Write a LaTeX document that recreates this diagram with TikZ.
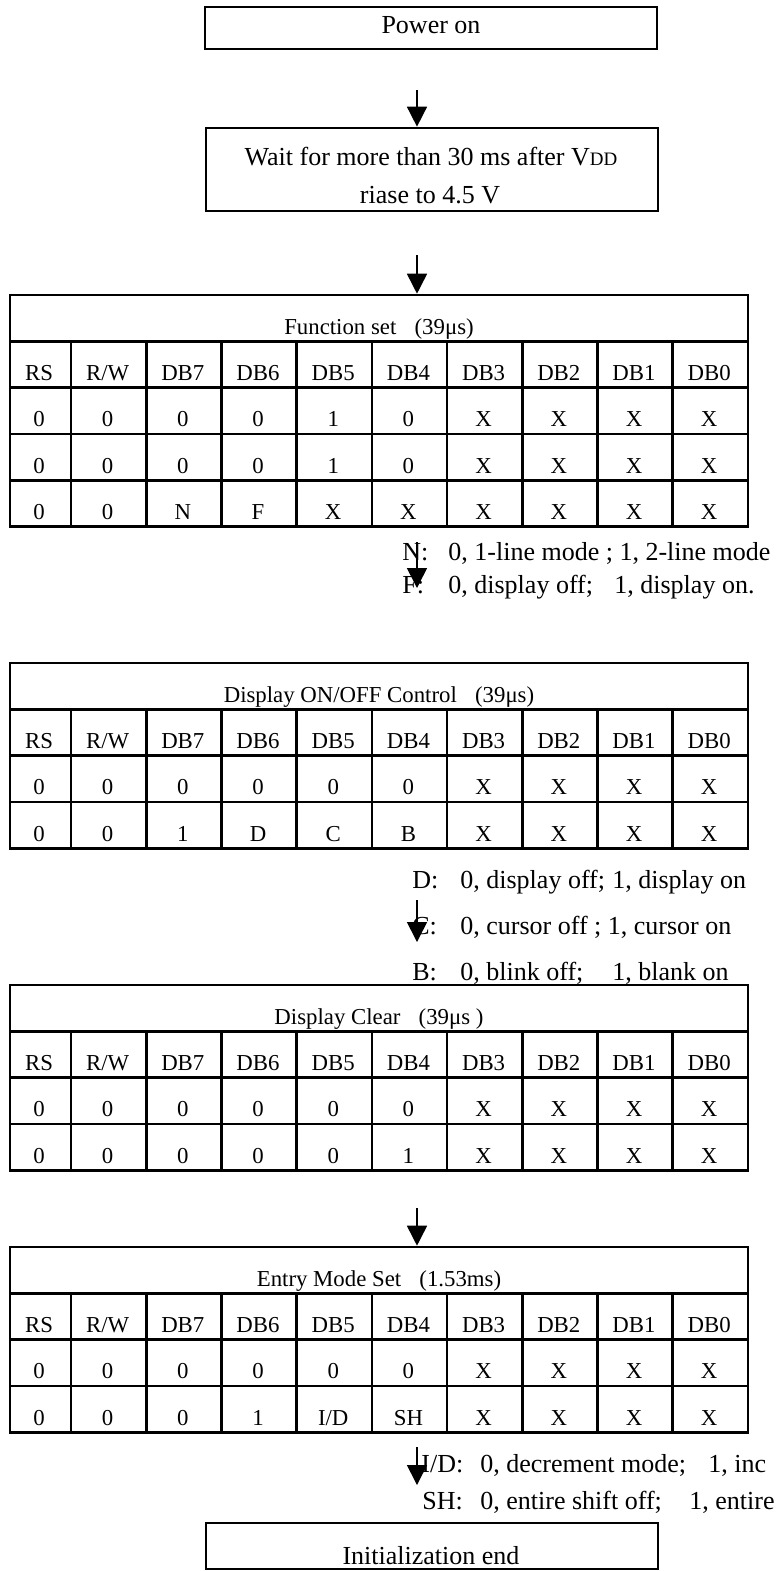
\documentclass[tikz,border=0pt]{standalone}
\usepackage{fontspec}
\setmainfont{Liberation Serif}
\usetikzlibrary{arrows.meta}
\newcommand\celltable[5]{% #1 name, #2 top, #3 rows incl. title, #4 title, #5 rows
  \pgfmathsetmacro\tb{#2+#3*46.3}
  \pgfmathsetmacro\tm{(#2+\tb)/2}
  \pgfmathtruncatemacro\nm{#3-1}
  \node[draw, tabline, minimum width=369pt, minimum height=#3*23.15pt, inner sep=0pt] (#1) at (379,\tm) {};
  \foreach \k in {1,...,\nm} {\draw[tabline] (10,#2+\k*46.3) -- (748,#2+\k*46.3);}
  \foreach \c in {1,...,9} {\draw[tabline] (71+75.2*\c-75.2,#2+46.3) -- (71+75.2*\c-75.2,\tb);}
  \node[small] (#1-title) at (379,#2+46.3-7) {#4};
  \foreach \row [count=\r] in {#5} {
    \foreach \val [count=\c] in \row {
      \pgfmathsetmacro\xc{\c==1 ? 39 : 71+75.2*(\c-1.5)-1}
      \node[small] (#1-\r-\c) at (\xc,#2+\r*46.3+46.3-7) {\val};
    }
  }
}
\begin{document}
\begin{tikzpicture}[x=0.5pt,y=-0.5pt,
  boxline/.style={line width=1.35pt},
  tabline/.style={line width=1.3pt},
  big/.style={font=\fontsize{13}{15}\selectfont, inner sep=0pt, anchor=base},
  small/.style={font=\fontsize{11.4}{13}\selectfont, inner sep=0pt, anchor=base},
  note/.style={font=\fontsize{13}{15}\selectfont, inner sep=0pt, anchor=base west},
  flow/.style={line width=0.8pt, -{Triangle[width=10pt,length=10pt]}}]
\useasboundingbox (0,0) rectangle (776,1571);
\clip (0,0) rectangle (776,1571);
\fill[white] (0,0) rectangle (776,1571);

% boxes
\node[draw, boxline, minimum width=226pt, minimum height=21pt, inner sep=0pt] (power) at (431,28) {};
\node[big] (powert) at (431,33) {Power on};
\node[draw, boxline, minimum width=226pt, minimum height=41.5pt, inner sep=0pt] (wait) at (432,169.5) {};
\node[big] (waitt1) at (431,165) {Wait for more than 30 ms after V{\fontsize{9.5}{10}\selectfont DD}};
\node[big] (waitt2) at (430,203) {riase to 4.5 V};
\node[draw, boxline, minimum width=226pt, minimum height=23pt, inner sep=0pt] (initend) at (432,1546) {};
\node[big] (initendt) at (431,1564) {Initialization end};

% tables
\celltable{fs}{295}{5}{Function set\hspace{0.8em}(39μs)}{{RS,R/W,DB7,DB6,DB5,DB4,DB3,DB2,DB1,DB0},{0,0,0,0,1,0,X,X,X,X},{0,0,0,0,1,0,X,X,X,X},{0,0,N,F,X,X,X,X,X,X}}
\celltable{dc}{663}{4}{Display ON/OFF Control\hspace{0.8em}(39μs)}{{RS,R/W,DB7,DB6,DB5,DB4,DB3,DB2,DB1,DB0},{0,0,0,0,0,0,X,X,X,X},{0,0,1,D,C,B,X,X,X,X}}
\celltable{cl}{985}{4}{Display Clear\hspace{0.8em}(39μs )}{{RS,R/W,DB7,DB6,DB5,DB4,DB3,DB2,DB1,DB0},{0,0,0,0,0,0,X,X,X,X},{0,0,0,0,0,1,X,X,X,X}}
\celltable{em}{1247}{4}{Entry Mode Set\hspace{0.8em}(1.53ms)}{{RS,R/W,DB7,DB6,DB5,DB4,DB3,DB2,DB1,DB0},{0,0,0,0,0,0,X,X,X,X},{0,0,0,1,I/D,SH,X,X,X,X}}

% notes
\node[note] (nN) at (402,560) {N:};
\node[note] (nNt) at (448,560) {0, 1-line mode ; 1, 2-line mode};
\node[note] (nF) at (402,593) {F:};
\node[note] (nFt) at (448,593) {0, display off;};
\node[note] (nFt2) at (614,593) {1, display on.};
\node[note] (nD) at (412,888) {D:};
\node[note] (nDt) at (460,888) {0, display off;};
\node[note] (nDt2) at (612,888) {1, display on};
\node[note] (nC) at (412,934) {C:};
\node[note] (nCt) at (460,934) {0, cursor off ; 1, cursor on};
\node[note] (nB) at (412,980) {B:};
\node[note] (nBt) at (460,980) {0, blink off;};
\node[note] (nBt2) at (612,980) {1, blank on};
\node[note] (nI) at (421,1472) {I/D:};
\node[note] (nIt) at (480,1472) {0, decrement mode;};
\node[note] (nIt2) at (708,1472) {1, inc};
\node[note] (nS) at (422,1509) {SH:};
\node[note] (nSt) at (480,1509) {0, entire shift off;};
\node[note] (nSt2) at (689,1509) {1, entire};

% arrows
\coordinate (a1) at (417,90);
\coordinate (a2) at (417,255);
\coordinate (a3) at (417,542);
\coordinate (a3e) at (417,588);
\coordinate (a4) at (417,900);
\coordinate (a4e) at (417,942);
\coordinate (a5) at (417,1208);
\coordinate (a6) at (417,1447);
\coordinate (a6e) at (417,1485);
\draw[flow] (a1) -- (a1 |- wait.north);
\draw[flow] (a2) -- (a2 |- fs.north);
\draw[flow] (a3) -- (a3e);
\draw[flow] (a4) -- (a4e);
\draw[flow] (a5) -- (a5 |- em.north);
\draw[flow] (a6) -- (a6e);
\end{tikzpicture}
\end{document}
